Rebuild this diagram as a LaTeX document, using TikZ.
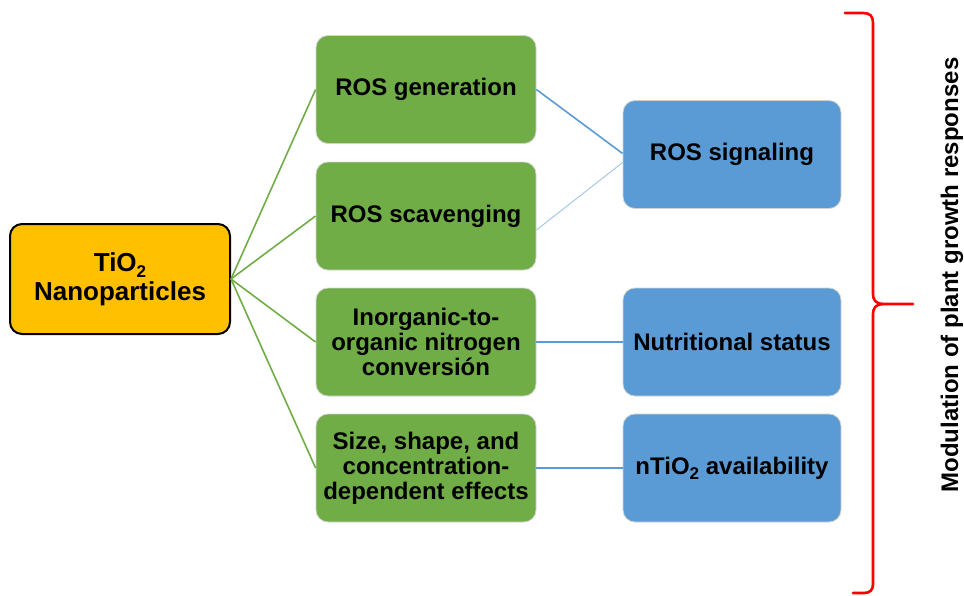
\documentclass[tikz,border=0pt]{standalone}
\usepackage{fontspec}
\setmainfont{Liberation Sans}

\definecolor{nanoyellow}{HTML}{FFC000}
\definecolor{mechgreen}{HTML}{70AD47}
\definecolor{respblue}{HTML}{5B9BD5}
\definecolor{bracered}{HTML}{FF0000}

\newcommand{\lowtwo}{\raisebox{-0.45ex}[\height][0pt]{\fontsize{17}{17}\selectfont 2}}

\tikzset{
    box/.style={rounded corners=12pt, minimum width=220pt, minimum height=108pt,
        align=center, inner sep=2pt, font=\fontsize{24}{25}\selectfont\bfseries},
    mech/.style={box, fill=mechgreen, draw=white!82!black, line width=0.8pt},
    resp/.style={box, fill=respblue, draw=white!82!black, line width=0.8pt, minimum width=218pt},
    greenlink/.style={mechgreen, line width=1.6pt},
    bluelink/.style={respblue, line width=1.6pt},
}

\begin{document}
\begin{tikzpicture}[x=1pt, y=-1pt]

    \useasboundingbox (0,0) rectangle (964,595);

    % Nanoparticles
    \node[box, fill=nanoyellow, draw=black, line width=2pt, minimum height=110pt,
        font=\fontsize{26}{29}\selectfont\bfseries] (tio) at (120,279) {TiO\lowtwo\\Nanoparticles};

    % Mechanisms
    \node[mech] (gen)   at (426,89.5) {ROS generation};
    \node[mech] (scav)  at (426,216)  {ROS scavenging};
    \node[mech] (nitro) at (426,342)  {Inorganic-to-\\organic nitrogen\\conversión};
    \node[mech] (size)  at (426,468)  {Size, shape, and\\concentration-\\dependent effects};

    % Responses
    \node[resp] (sig)   at (732,154.5) {ROS signaling};
    \node[resp] (nutr)  at (732,342)   {Nutritional status};
    \node[resp] (avail) at (732,468)   {nTiO\lowtwo{} availability};

    % Links from the nanoparticles
    \foreach \m in {gen, scav, nitro, size}
        \draw[greenlink] (tio.east) -- (\m.west);

    % Links to the responses
    \draw[bluelink] (gen.east) -- ([yshift=1pt]sig.west);
    \draw[respblue!55, line width=1pt] ([yshift=-14pt]scav.east) -- ([yshift=-8pt]sig.west);
    \draw[bluelink] (nitro.east) -- (nutr.west);
    \draw[bluelink] (size.east) -- (avail.west);

    % Brace
    \draw[bracered, line width=2.6pt, line cap=round]
        (845,13) -- (863,13) .. controls (870,13) and (873,16) .. (873,23)
        -- (873,294) .. controls (873,300) and (876,304) .. (883,304) -- (913,304);
    \draw[bracered, line width=2.6pt, line cap=round]
        (883,304) .. controls (876,304) and (873,308) .. (873,314)
        -- (873,584) .. controls (873,590) and (870,593) .. (864,593) -- (853,593);

    % Label
    \node[rotate=90, anchor=base, inner sep=0pt, font=\fontsize{24}{25}\selectfont\bfseries]
        (resplabel) at (958,275) {Modulation of plant growth responses};

\end{tikzpicture}
\end{document}
